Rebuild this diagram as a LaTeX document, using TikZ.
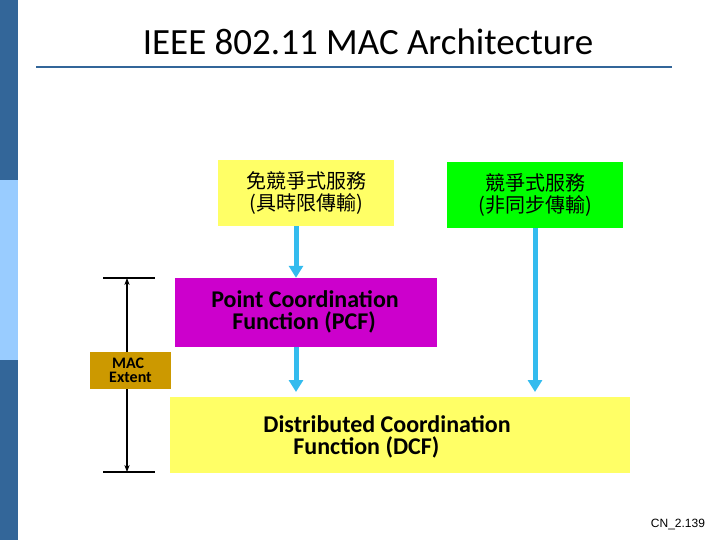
\documentclass[tikz,border=0pt]{standalone}
\usepackage{fontspec}
\setmainfont{Carlito}
\newfontfamily\cjk{Noto Sans CJK TC}
\newfontfamily\tagfont{Liberation Sans}
\usetikzlibrary{arrows.meta,positioning}
\definecolor{barDark}{RGB}{51,102,153}
\definecolor{barLight}{RGB}{153,204,255}
\definecolor{paleYellow}{RGB}{255,255,102}
\definecolor{brightGreen}{RGB}{0,255,0}
\definecolor{pcfMagenta}{RGB}{204,0,204}
\definecolor{goldBox}{RGB}{204,153,0}
\definecolor{flowCyan}{RGB}{51,187,238}

\begin{document}
\begin{tikzpicture}[x=1pt,y=-1pt,
	  box/.style={draw=none,minimum height=66pt,minimum width=176pt,align=center,inner sep=0pt},
	  chinese/.style={font=\cjk\fontsize{20}{22}\selectfont},
	  label text/.style={align=left,font=\bfseries\fontsize{24}{22}\selectfont},
	  flow/.style={-{Triangle[length=12pt,width=14pt]},flowCyan,line width=5pt}]
	  \useasboundingbox (0,0) rectangle (720,540);
	  % side bar
	  \fill[barDark] (0,0) rectangle (18,180);
	  \fill[barLight] (0,180) rectangle (18,360);
	  \fill[barDark] (0,360) rectangle (18,540);

	  \node[font=\fontsize{37}{40}\selectfont] (title) at (368,42) {IEEE 802.11 MAC Architecture};
	  \draw[barDark,line width=2pt] (36,67) -- (672,67);

	  \node[box,chinese,fill=paleYellow] (free) at (306,193) {免競爭式服務\\(具時限傳輸)};
	  \node[box,chinese,fill=brightGreen] (cont) at (535,195) {競爭式服務\\(非同步傳輸)};
	  \node[box,fill=pcfMagenta,minimum width=262pt,minimum height=69pt] (pcf) at (306,312.5) {};
	  \node[label text] (pcftext) at (305,312) {Point Coordination\\\hspace{21pt}Function (PCF)};
	  \node[box,fill=paleYellow,minimum width=460pt,minimum height=76pt] (dcf) at (400,435) {};
	  \node[label text] (dcftext) at (387,437) {Distributed Coordination\\\hspace{30pt}Function (DCF)};

	  \coordinate (top) at (127,278);
	  \coordinate (bot) at (127,472);
	  \draw[line width=1.3pt] (103,278) -- (155,278);
	  \draw[line width=1.3pt] (103,472) -- (155,472);
	  \draw[{Stealth[length=7pt]}-{Stealth[length=7pt]},line width=1.3pt] (top) -- (bot);
	  \node[fill=goldBox,minimum width=81pt,minimum height=37pt,align=left,inner sep=0pt,
	    font=\bfseries\fontsize{16}{14}\selectfont] (ext) at (130.5,370.5) {\hspace{3pt}MAC\\Extent};

	  \draw[flow] (free.south -| 296,0) -- (pcf.north -| 296,0);
	  \draw[flow] (pcf.south -| 296,0) -- (296,392);
	  \draw[flow] (cont.south) -- (535,392);

	  \node[font=\tagfont\fontsize{12}{14}\selectfont] (page) at (678,524) {CN\_2.139};
\end{tikzpicture}
\end{document}
